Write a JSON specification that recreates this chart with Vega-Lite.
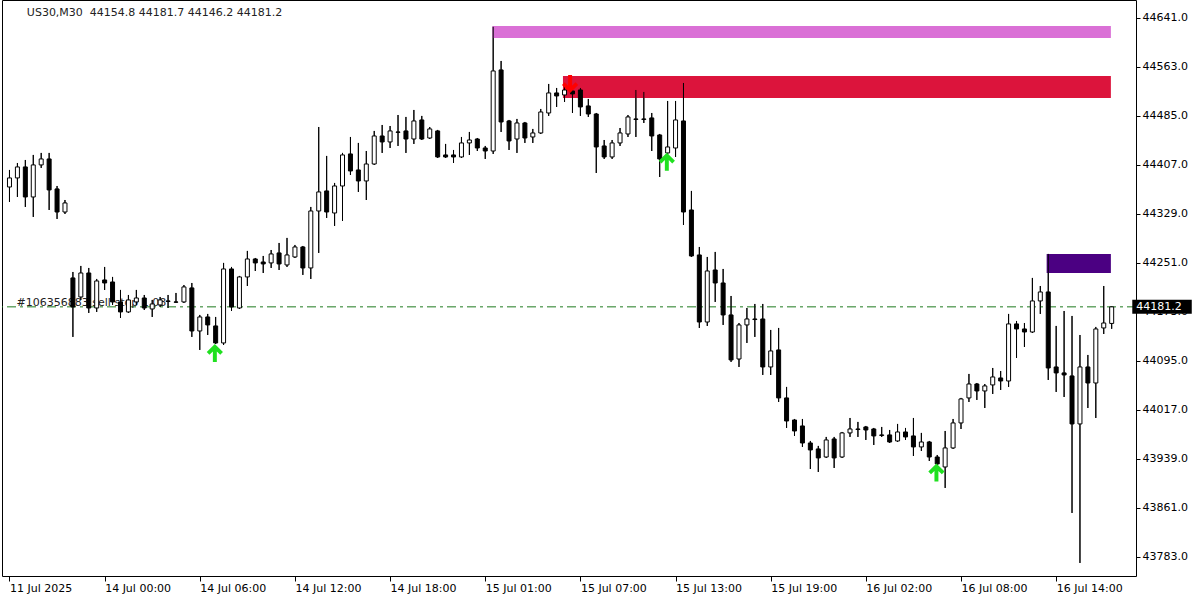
{
"$schema": "https://vega.github.io/schema/vega-lite/v6.json",
"width": 1134, "height": 576,
"autosize": {"type": "none"},
"padding": {"left": 2, "top": 0, "right": 64, "bottom": 24},
"background": "white",
"config": {"view": {"stroke": "black", "strokeWidth": 1}, "font": "DejaVu Sans"},
"datasets": {
"candles": [
{"i":0,"o":44372.0,"h":44399.1,"l":44348.2,"c":44386.4},
{"i":1,"o":44386.4,"h":44410.2,"l":44356.1,"c":44403.9},
{"i":2,"o":44403.9,"h":44415.0,"l":44340.2,"c":44356.1},
{"i":3,"o":44356.1,"h":44423.0,"l":44324.3,"c":44407.1},
{"i":4,"o":44407.1,"h":44426.2,"l":44402.3,"c":44416.6},
{"i":5,"o":44416.6,"h":44426.2,"l":44335.4,"c":44367.3},
{"i":6,"o":44368.9,"h":44373.6,"l":44321.1,"c":44332.2},
{"i":7,"o":44332.2,"h":44351.3,"l":44329.0,"c":44346.6},
{"i":8,"o":44227.2,"h":44236.7,"l":44133.3,"c":44181.0},
{"i":9,"o":44196.9,"h":44246.3,"l":44192.2,"c":44235.1},
{"i":10,"o":44235.1,"h":44243.1,"l":44171.5,"c":44179.4},
{"i":11,"o":44179.4,"h":44225.6,"l":44173.1,"c":44222.4},
{"i":12,"o":44224.0,"h":44244.7,"l":44208.1,"c":44219.2},
{"i":13,"o":44220.8,"h":44228.8,"l":44184.2,"c":44189.0},
{"i":14,"o":44189.0,"h":44208.1,"l":44163.5,"c":44173.1},
{"i":15,"o":44173.1,"h":44200.1,"l":44171.5,"c":44192.2},
{"i":16,"o":44189.0,"h":44208.1,"l":44184.2,"c":44195.3},
{"i":17,"o":44195.3,"h":44200.1,"l":44176.2,"c":44179.4},
{"i":18,"o":44177.8,"h":44192.2,"l":44165.1,"c":44185.8},
{"i":19,"o":44184.2,"h":44196.9,"l":44181.0,"c":44192.2},
{"i":20,"o":44190.6,"h":44200.1,"l":44179.4,"c":44189.8},
{"i":21,"o":44189.0,"h":44203.3,"l":44187.4,"c":44188.6},
{"i":22,"o":44189.0,"h":44216.0,"l":44187.4,"c":44212.9},
{"i":23,"o":44211.3,"h":44219.2,"l":44133.3,"c":44142.8},
{"i":24,"o":44142.8,"h":44168.3,"l":44112.6,"c":44165.1},
{"i":25,"o":44165.1,"h":44169.9,"l":44136.4,"c":44152.4},
{"i":26,"o":44150.8,"h":44165.1,"l":44122.1,"c":44123.7},
{"i":27,"o":44123.7,"h":44251.1,"l":44120.5,"c":44241.5},
{"i":28,"o":44241.5,"h":44244.7,"l":44174.6,"c":44181.0},
{"i":29,"o":44179.4,"h":44230.4,"l":44177.8,"c":44228.8},
{"i":30,"o":44228.8,"h":44270.2,"l":44214.4,"c":44257.4},
{"i":31,"o":44257.4,"h":44259.0,"l":44238.3,"c":44251.1},
{"i":32,"o":44252.6,"h":44262.2,"l":44235.1,"c":44249.5},
{"i":33,"o":44251.1,"h":44271.7,"l":44243.1,"c":44265.4},
{"i":34,"o":44267.0,"h":44282.9,"l":44239.9,"c":44249.5},
{"i":35,"o":44247.9,"h":44290.9,"l":44244.7,"c":44263.8},
{"i":36,"o":44260.6,"h":44279.7,"l":44259.0,"c":44276.5},
{"i":37,"o":44276.5,"h":44278.1,"l":44232.0,"c":44243.1},
{"i":38,"o":44243.1,"h":44340.2,"l":44225.6,"c":44333.8},
{"i":39,"o":44333.8,"h":44467.5,"l":44267.0,"c":44364.1},
{"i":40,"o":44365.7,"h":44421.4,"l":44322.7,"c":44332.2},
{"i":41,"o":44330.6,"h":44378.4,"l":44310.0,"c":44373.6},
{"i":42,"o":44373.6,"h":44426.2,"l":44317.9,"c":44423.0},
{"i":43,"o":44424.6,"h":44451.6,"l":44391.1,"c":44397.5},
{"i":44,"o":44399.1,"h":44442.1,"l":44364.1,"c":44381.6},
{"i":45,"o":44381.6,"h":44429.3,"l":44351.3,"c":44408.6},
{"i":46,"o":44408.6,"h":44461.2,"l":44407.1,"c":44453.2},
{"i":47,"o":44453.2,"h":44470.7,"l":44426.2,"c":44443.7},
{"i":48,"o":44443.7,"h":44469.1,"l":44434.1,"c":44461.2},
{"i":49,"o":44459.6,"h":44486.6,"l":44437.3,"c":44459.0},
{"i":50,"o":44461.2,"h":44483.5,"l":44426.2,"c":44448.4},
{"i":51,"o":44448.4,"h":44494.6,"l":44440.5,"c":44477.1},
{"i":52,"o":44478.7,"h":44485.1,"l":44446.8,"c":44448.4},
{"i":53,"o":44450.0,"h":44467.5,"l":44448.4,"c":44464.4},
{"i":54,"o":44461.2,"h":44462.8,"l":44418.2,"c":44419.8},
{"i":55,"o":44423.0,"h":44440.5,"l":44418.2,"c":44419.8},
{"i":56,"o":44423.0,"h":44430.9,"l":44410.2,"c":44419.8},
{"i":57,"o":44419.8,"h":44451.6,"l":44418.2,"c":44442.1},
{"i":58,"o":44442.1,"h":44459.6,"l":44423.0,"c":44446.8},
{"i":59,"o":44448.4,"h":44450.0,"l":44429.3,"c":44434.1},
{"i":60,"o":44434.1,"h":44437.3,"l":44416.6,"c":44429.3},
{"i":61,"o":44429.3,"h":44627.0,"l":44424.6,"c":44556.7},
{"i":62,"o":44558.3,"h":44572.6,"l":44459.6,"c":44475.5},
{"i":63,"o":44477.1,"h":44478.7,"l":44430.9,"c":44445.3},
{"i":64,"o":44448.4,"h":44480.3,"l":44426.2,"c":44473.9},
{"i":65,"o":44473.9,"h":44475.5,"l":44442.1,"c":44450.0},
{"i":66,"o":44451.6,"h":44464.4,"l":44442.1,"c":44458.0},
{"i":67,"o":44458.0,"h":44496.2,"l":44456.4,"c":44491.4},
{"i":68,"o":44489.8,"h":44536.0,"l":44485.1,"c":44521.7},
{"i":69,"o":44521.7,"h":44529.6,"l":44499.4,"c":44516.9},
{"i":70,"o":44518.5,"h":44534.4,"l":44507.3,"c":44526.4},
{"i":71,"o":44524.8,"h":44532.8,"l":44489.8,"c":44520.1},
{"i":72,"o":44526.4,"h":44529.6,"l":44485.1,"c":44499.4},
{"i":73,"o":44501.0,"h":44512.1,"l":44483.5,"c":44488.2},
{"i":74,"o":44488.2,"h":44489.8,"l":44394.3,"c":44435.7},
{"i":75,"o":44437.3,"h":44446.8,"l":44416.6,"c":44419.8},
{"i":76,"o":44419.8,"h":44446.8,"l":44416.6,"c":44442.1},
{"i":77,"o":44442.1,"h":44465.9,"l":44437.3,"c":44458.0},
{"i":78,"o":44456.4,"h":44486.6,"l":44451.6,"c":44483.5},
{"i":79,"o":44480.3,"h":44526.4,"l":44451.6,"c":44479.5},
{"i":80,"o":44480.3,"h":44523.3,"l":44473.9,"c":44479.5},
{"i":81,"o":44481.9,"h":44489.8,"l":44429.3,"c":44453.2},
{"i":82,"o":44454.8,"h":44456.4,"l":44387.9,"c":44416.6},
{"i":83,"o":44426.2,"h":44508.9,"l":44415.0,"c":44435.7},
{"i":84,"o":44434.1,"h":44508.9,"l":44419.8,"c":44478.7},
{"i":85,"o":44477.1,"h":44537.6,"l":44311.5,"c":44332.2},
{"i":86,"o":44335.4,"h":44365.7,"l":44260.6,"c":44262.2},
{"i":87,"o":44263.8,"h":44276.5,"l":44147.6,"c":44157.1},
{"i":88,"o":44157.1,"h":44260.6,"l":44150.8,"c":44238.3},
{"i":89,"o":44239.9,"h":44268.6,"l":44189.0,"c":44219.2},
{"i":90,"o":44219.2,"h":44241.5,"l":44152.4,"c":44168.3},
{"i":91,"o":44168.3,"h":44198.5,"l":44093.5,"c":44096.7},
{"i":92,"o":44098.2,"h":44155.5,"l":44085.5,"c":44152.4},
{"i":93,"o":44152.4,"h":44179.4,"l":44123.7,"c":44161.9},
{"i":94,"o":44161.9,"h":44185.8,"l":44133.3,"c":44161.0},
{"i":95,"o":44161.9,"h":44185.8,"l":44072.8,"c":44085.5},
{"i":96,"o":44085.5,"h":44144.4,"l":44072.8,"c":44111.0},
{"i":97,"o":44112.6,"h":44147.6,"l":44029.8,"c":44036.2},
{"i":98,"o":44036.2,"h":44053.7,"l":43988.4,"c":43999.5},
{"i":99,"o":44001.1,"h":44002.7,"l":43975.7,"c":43983.6},
{"i":100,"o":43991.6,"h":44002.7,"l":43958.2,"c":43964.5},
{"i":101,"o":43964.5,"h":43967.7,"l":43923.1,"c":43953.4},
{"i":102,"o":43955.0,"h":43959.8,"l":43918.4,"c":43940.7},
{"i":103,"o":43942.2,"h":43974.1,"l":43940.7,"c":43969.3},
{"i":104,"o":43970.9,"h":43974.1,"l":43924.7,"c":43940.7},
{"i":105,"o":43942.2,"h":43982.0,"l":43940.7,"c":43980.5},
{"i":106,"o":43980.5,"h":44004.3,"l":43974.1,"c":43986.8},
{"i":107,"o":43986.8,"h":43998.0,"l":43974.1,"c":43986.0},
{"i":108,"o":43990.0,"h":43991.6,"l":43969.3,"c":43985.2},
{"i":109,"o":43986.8,"h":43988.4,"l":43961.3,"c":43975.7},
{"i":110,"o":43977.3,"h":43990.0,"l":43974.1,"c":43976.5},
{"i":111,"o":43977.3,"h":43985.2,"l":43964.5,"c":43966.1},
{"i":112,"o":43967.7,"h":43994.8,"l":43966.1,"c":43982.0},
{"i":113,"o":43982.0,"h":43988.4,"l":43969.3,"c":43974.1},
{"i":114,"o":43975.7,"h":44004.3,"l":43943.8,"c":43958.2},
{"i":115,"o":43958.2,"h":43980.5,"l":43951.8,"c":43966.1},
{"i":116,"o":43966.1,"h":43967.7,"l":43935.9,"c":43942.2},
{"i":117,"o":43942.2,"h":43945.4,"l":43926.3,"c":43931.1},
{"i":118,"o":43926.3,"h":43983.6,"l":43892.9,"c":43956.6},
{"i":119,"o":43956.6,"h":44002.7,"l":43955.0,"c":43996.4},
{"i":120,"o":43996.4,"h":44036.2,"l":43986.8,"c":44034.6},
{"i":121,"o":44036.2,"h":44074.4,"l":44029.8,"c":44058.4},
{"i":122,"o":44058.4,"h":44060.0,"l":44033.0,"c":44047.3},
{"i":123,"o":44047.3,"h":44058.4,"l":44020.2,"c":44055.3},
{"i":124,"o":44056.9,"h":44083.9,"l":44042.5,"c":44069.6},
{"i":125,"o":44068.0,"h":44079.1,"l":44048.9,"c":44063.2},
{"i":126,"o":44063.2,"h":44169.9,"l":44053.7,"c":44154.0},
{"i":127,"o":44154.0,"h":44158.7,"l":44099.8,"c":44146.0},
{"i":128,"o":44146.0,"h":44155.5,"l":44117.3,"c":44141.2},
{"i":129,"o":44141.2,"h":44227.2,"l":44139.6,"c":44190.6},
{"i":130,"o":44190.6,"h":44214.4,"l":44169.9,"c":44204.9},
{"i":131,"o":44204.9,"h":44265.4,"l":44064.8,"c":44083.9},
{"i":132,"o":44085.5,"h":44150.8,"l":44045.7,"c":44076.0},
{"i":133,"o":44076.0,"h":44174.6,"l":44037.7,"c":44072.8},
{"i":134,"o":44071.2,"h":44166.7,"l":43853.1,"c":43994.8},
{"i":135,"o":43994.8,"h":44136.4,"l":43773.5,"c":44085.5},
{"i":136,"o":44085.5,"h":44104.6,"l":44020.2,"c":44060.0},
{"i":137,"o":44060.0,"h":44149.2,"l":44004.3,"c":44146.0},
{"i":138,"o":44147.6,"h":44214.4,"l":44138.0,"c":44155.5},
{"i":139,"o":44154.8,"h":44181.7,"l":44146.2,"c":44181.2}
],
"zones": [
{"zone":"a","x1":60.9,"x2":138.9,"y1":44609.2,"y2":44628.3},
{"zone":"b","x1":69.8,"x2":138.9,"y1":44513.6,"y2":44548.6},
{"zone":"c","x1":130.8,"x2":138.9,"y1":44235.1,"y2":44265.3}
],
"up": [{"x":25.9,"y":44107.7},{"x":82.9,"y":44412.2},{"x":116.9,"y":43917.5}],
"down": [{"x":70.7,"y":44535.9}],
"texts": [
{"t":"#106356883 sell stop 1.08","x":0.9,"y":44182.5},
{"t":"US30,M30\u00a0 44154.8 44181.7 44146.2 44181.2","x":2.19,"y":44644.2}
],
"pricebox": [{"x1":141.6,"x2":149.1,"y1":44170.05,"y2":44192.35,"x":142.1,"y":44181.2,"t":"44181.2"}]
},
"layer": [
{
"data": {"name": "candles"},
"mark": {"type": "rule", "color": "black", "strokeWidth": 1},
"encoding": {
"x": {"field": "i", "type": "quantitative", "title": null, "scale": {"domain": [-0.3125, 141.4375], "nice": false, "zero": false},
  "axis": {"orient": "bottom", "title": null, "values": [0,12,24,36,48,60,72,84,96,108,120,132],
   "labelExpr": "['11 Jul 2025','14 Jul 00:00','14 Jul 06:00','14 Jul 12:00','14 Jul 18:00','15 Jul 01:00','15 Jul 07:00','15 Jul 13:00','15 Jul 19:00','16 Jul 02:00','16 Jul 08:00','16 Jul 14:00'][round(datum.value/12)]",
   "labelAlign": "left", "labelBaseline": "top", "labelPadding": 1, "tickSize": 5, "tickColor": "black", "domain": false, "grid": false,
   "labelFont": "DejaVu Sans", "labelFontSize": 11, "labelColor": "black", "labelFlush": false, "labelOverlap": false, "labelBound": false}},
"y": {"field": "l", "type": "quantitative", "title": null, "scale": {"domain": [43752.75, 44669.65], "nice": false, "zero": false},
  "axis": {"orient": "right", "title": null, "values": [43783,43861,43939,44017,44095,44173,44251,44329,44407,44485,44563,44641],
   "format": ".1f", "labelAlign": "left", "labelBaseline": "middle", "labelPadding": 2, "tickSize": 4, "tickColor": "black", "domain": false, "grid": false,
   "labelFont": "DejaVu Sans", "labelFontSize": 11, "labelColor": "black", "labelOverlap": false, "labelBound": false, "labelFlush": false}},
"y2": {"field": "h"}
}
},
{
"data": {"name": "zones"},
"mark": {"type": "rect"},
"encoding": {
"x": {"field": "x1", "type": "quantitative", "title": null, "scale": {"domain": [-0.3125, 141.4375], "nice": false, "zero": false}},
"x2": {"field": "x2"},
"y": {"field": "y1", "type": "quantitative", "title": null, "scale": {"domain": [43752.75, 44669.65], "nice": false, "zero": false}},
"y2": {"field": "y2"},
"color": {"field": "zone", "type": "nominal", "scale": {"domain": ["a","b","c"], "range": ["#DA70D6","#DC143C","#4B0082"]}, "legend": null}
}
},
{
"data": {"values": [{"p": 44181.2}]},
"mark": {"type": "rule", "color": "#1E7B1E", "strokeWidth": 1, "strokeDash": [9, 4, 3, 4]},
"encoding": {
"y": {"field": "p", "type": "quantitative", "title": null, "scale": {"domain": [43752.75, 44669.65], "nice": false, "zero": false}}
}
},
{
"data": {"name": "texts"},
"mark": {"type": "text", "font": "DejaVu Sans", "fontSize": 11, "align": "left", "baseline": "alphabetic", "color": "#222222"},
"encoding": {
"x": {"field": "x", "type": "quantitative", "title": null, "scale": {"domain": [-0.3125, 141.4375], "nice": false, "zero": false}},
"y": {"field": "y", "type": "quantitative", "title": null, "scale": {"domain": [43752.75, 44669.65], "nice": false, "zero": false}},
"text": {"field": "t"}
}
},
{
"data": {"name": "candles"},
"mark": {"type": "rule", "color": "black", "strokeWidth": 1},
"encoding": {
"x": {"field": "i", "type": "quantitative", "title": null, "scale": {"domain": [-0.3125, 141.4375], "nice": false, "zero": false}},
"y": {"field": "l", "type": "quantitative", "title": null, "scale": {"domain": [43752.75, 44669.65], "nice": false, "zero": false}},
"y2": {"field": "h"}
}
},
{
"data": {"name": "candles"},
"mark": {"type": "bar", "width": 4, "stroke": "black", "strokeWidth": 1},
"encoding": {
"x": {"field": "i", "type": "quantitative", "title": null, "scale": {"domain": [-0.3125, 141.4375], "nice": false, "zero": false}},
"y": {"field": "o", "type": "quantitative", "title": null, "scale": {"domain": [43752.75, 44669.65], "nice": false, "zero": false}},
"y2": {"field": "c"},
"fill": {"condition": {"test": "datum.c > datum.o", "value": "white"}, "value": "black"}
}
},
{
"data": {"name": "up"},
"mark": {"type": "point", "shape": "M0,-1L0.9,-0.1L0.6,0.2L0.22,-0.18L0.22,1L-0.22,1L-0.22,-0.18L-0.6,0.2L-0.9,-0.1Z", "filled": true, "size": 324, "color": "#20E020", "opacity": 1, "strokeWidth": 0},
"encoding": {
"x": {"field": "x", "type": "quantitative", "title": null, "scale": {"domain": [-0.3125, 141.4375], "nice": false, "zero": false}},
"y": {"field": "y", "type": "quantitative", "title": null, "scale": {"domain": [43752.75, 44669.65], "nice": false, "zero": false}}
}
},
{
"data": {"name": "down"},
"mark": {"type": "point", "shape": "M0,1L0.9,0.1L0.6,-0.2L0.22,0.18L0.22,-1L-0.22,-1L-0.22,0.18L-0.6,-0.2L-0.9,0.1Z", "filled": true, "size": 324, "color": "#FF0000", "opacity": 1, "strokeWidth": 0},
"encoding": {
"x": {"field": "x", "type": "quantitative", "title": null, "scale": {"domain": [-0.3125, 141.4375], "nice": false, "zero": false}},
"y": {"field": "y", "type": "quantitative", "title": null, "scale": {"domain": [43752.75, 44669.65], "nice": false, "zero": false}}
}
},
{
"data": {"name": "pricebox"},
"mark": {"type": "rect", "color": "black"},
"encoding": {
"x": {"field": "x1", "type": "quantitative", "title": null, "scale": {"domain": [-0.3125, 141.4375], "nice": false, "zero": false}},
"x2": {"field": "x2"},
"y": {"field": "y1", "type": "quantitative", "title": null, "scale": {"domain": [43752.75, 44669.65], "nice": false, "zero": false}},
"y2": {"field": "y2"}
}
},
{
"data": {"name": "pricebox"},
"mark": {"type": "text", "font": "DejaVu Sans", "fontSize": 11, "align": "left", "baseline": "middle", "color": "white"},
"encoding": {
"x": {"field": "x", "type": "quantitative", "title": null, "scale": {"domain": [-0.3125, 141.4375], "nice": false, "zero": false}},
"y": {"field": "y", "type": "quantitative", "title": null, "scale": {"domain": [43752.75, 44669.65], "nice": false, "zero": false}},
"text": {"field": "t"}
}
}
]
}
